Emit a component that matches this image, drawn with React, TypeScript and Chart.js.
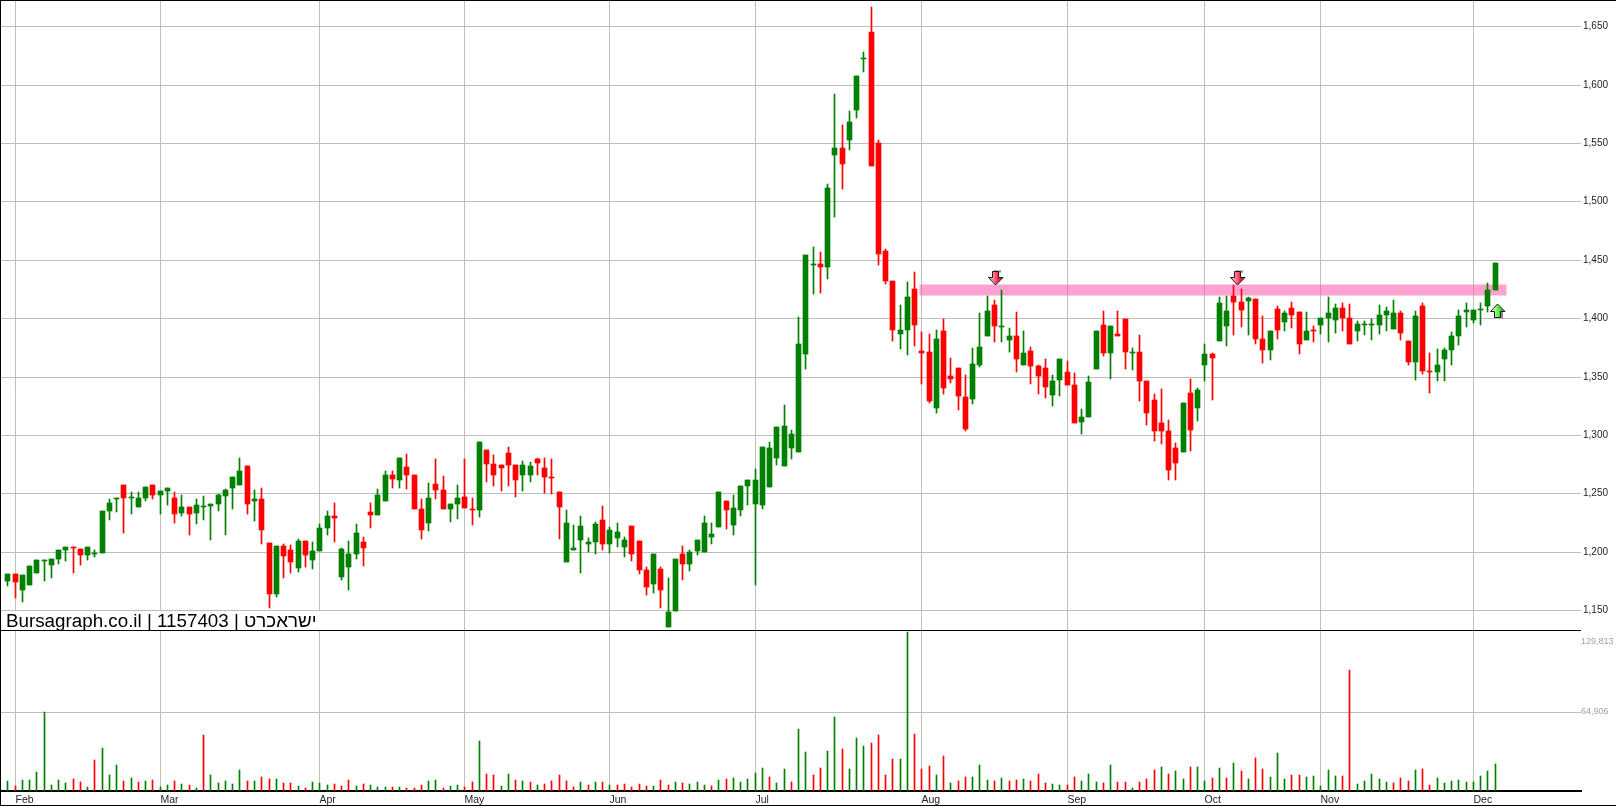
import React, { useEffect, useRef } from 'react';
import Chart from 'chart.js/auto';

const opens = [
  1174.8, 1180.8, 1167.1, 1171.4, 1181.7, 1192.5, 1188.5, 1193.7, 1201.4, 1203.9,
  1202.2, 1197.1, 1197.9, 1198.8, 1234.8, 1245, 1257, 1245.9, 1238.2, 1245.9,
  1257, 1248.5, 1251.9, 1245.9, 1233.1, 1238.2, 1233.1, 1238.2, 1239, 1240.8,
  1247.6, 1254.5, 1257, 1273.3, 1243.3, 1245, 1207.4, 1163.7, 1204.8, 1201.4,
  1186, 1209.1, 1192.8, 1200.5, 1220.2, 1230.5, 1178.3, 1186.8, 1197.9, 1208.3,
  1233.9, 1231.4, 1243.4, 1265.6, 1261.3, 1272.5, 1265.6, 1236.5, 1224.5, 1257.9,
  1252.8, 1236.5, 1240.8, 1246.8, 1236.5, 1235.7, 1287, 1275, 1274.2, 1284.5,
  1274.2, 1265.6, 1265.6, 1279.3, 1271.6, 1263.9, 1251.1, 1191.1, 1201.4, 1209.9,
  1206.5, 1208.3, 1227.1, 1206.5, 1211.7, 1204, 1221.9, 1209.1, 1184.3, 1172.3,
  1185.1, 1136, 1149.2, 1198, 1189.4, 1200.6, 1199.7, 1212.5, 1221.1, 1243.4,
  1222.8, 1236, 1256.6, 1241, 1240, 1255.8, 1280.6, 1273.7, 1289.1, 1285.7,
  1369.6, 1445.8, 1446.7, 1444.1, 1539.6, 1545.6, 1552.4, 1578.1, 1621.8, 1644.9,
  1549.9, 1457.8, 1432.1, 1386.8, 1390.2, 1425.3, 1372.2, 1371.3, 1323.4, 1389.3,
  1350.8, 1357.6, 1332.8, 1331.1, 1360.2, 1385, 1411.6, 1392.7, 1381.6, 1385,
  1360.2, 1372.2, 1359.4, 1357.6, 1334.5, 1347.4, 1354.2, 1343.1, 1311.4, 1315.7,
  1356.8, 1394.5, 1370.5, 1386.8, 1399.6, 1370.5, 1371.4, 1346.5, 1330.3, 1310.6,
  1303.7, 1289.2, 1285.7, 1336.3, 1323.4, 1360.2, 1369.7, 1380.8, 1393.6, 1419.3,
  1414.2, 1415, 1416.7, 1382.5, 1373.1, 1408.2, 1397.1, 1409.1, 1405.7, 1381.7,
  1390.2, 1394.5, 1400.5, 1398.8, 1409.1, 1400.5, 1389.4, 1394.5, 1394.5, 1394.5,
  1403.1, 1391.1, 1404.8, 1380.8, 1362.8, 1410.8, 1355.1, 1354.3, 1365.4, 1373.1,
  1385.1, 1405.7, 1398.8, 1407.4, 1410.8, 1424.5,
];

const highs = [
  1180.8, 1180.8, 1180, 1187.7, 1193.4, 1193.4, 1193.7, 1201.4, 1203.9, 1203.9,
  1202.2, 1203.9, 1201.4, 1234.8, 1245, 1245.9, 1257, 1251, 1251, 1255.3,
  1257, 1251.9, 1254.5, 1251, 1248.5, 1238.2, 1245, 1247.6, 1240.8, 1249.3,
  1253.6, 1263.9, 1280.1, 1273.3, 1252.7, 1254.5, 1207.4, 1204.8, 1206.5, 1205.6,
  1210.8, 1209.1, 1208.2, 1223.6, 1234.8, 1241.6, 1203.1, 1209.1, 1223.6, 1212.5,
  1241.6, 1253.6, 1269, 1269, 1280.2, 1283.6, 1265.6, 1245.1, 1258.8, 1279.3,
  1264.8, 1240.8, 1257, 1279.3, 1245.9, 1293.9, 1287, 1282.7, 1274.2, 1289.6,
  1274.2, 1277.6, 1276.8, 1280.2, 1280.2, 1279.3, 1251.1, 1235.7, 1222.8, 1230.5,
  1211.7, 1225.4, 1239.1, 1221.1, 1224.5, 1212.5, 1221.9, 1209.1, 1186.9, 1198,
  1186.9, 1177.4, 1193.7, 1204.8, 1201.4, 1210, 1230.5, 1224.5, 1251.1, 1243.4,
  1248.5, 1256.6, 1261.8, 1271.2, 1290, 1294.3, 1307.1, 1325.9, 1304.6, 1401.3,
  1454.4, 1461.2, 1457, 1514.8, 1591.8, 1565.3, 1577.3, 1607.2, 1627.8, 1666.3,
  1552.4, 1459.5, 1432.1, 1411.6, 1431.3, 1439.8, 1388.5, 1386.8, 1390.2, 1399.6,
  1366.2, 1357.6, 1351.7, 1374.8, 1404.7, 1419.3, 1415.9, 1424.4, 1391.9, 1405.6,
  1389.3, 1375.6, 1360.2, 1365.3, 1351.6, 1365.3, 1363.7, 1353.4, 1322.6, 1350.8,
  1389.3, 1406.5, 1393.6, 1406.5, 1399.6, 1374.8, 1385.9, 1346.5, 1335.4, 1339.7,
  1313.1, 1293.4, 1327.7, 1348.2, 1340.5, 1378.2, 1370.5, 1418.5, 1419.3, 1428.7,
  1425.3, 1418.5, 1416.7, 1402.2, 1389.3, 1410.8, 1406.5, 1414.2, 1405.7, 1405.7,
  1393.7, 1400.5, 1418.5, 1412.5, 1413.4, 1412.5, 1398, 1398, 1399.7, 1411.6,
  1409.9, 1415.9, 1406.5, 1380.8, 1406.5, 1413.4, 1370.6, 1374, 1374.8, 1388.5,
  1407.4, 1413.4, 1407.4, 1413.4, 1430.5, 1447.6,
];

const lows = [
  1170.5, 1160.3, 1156.9, 1171.4, 1181.7, 1174.8, 1177.4, 1189.4, 1192, 1181.7,
  1188.5, 1192.8, 1195.4, 1198.8, 1227.1, 1233.9, 1215.9, 1232.2, 1238.2, 1243.3,
  1245, 1232.2, 1239.9, 1224.5, 1230.5, 1214.2, 1223.6, 1227.1, 1209.9, 1234.8,
  1214.2, 1236.5, 1257, 1232.2, 1226.2, 1206.5, 1151.7, 1161.1, 1177.4, 1181.7,
  1182.5, 1186.8, 1185.1, 1200.5, 1214.2, 1208.2, 1175.7, 1167.1, 1193.7, 1187.7,
  1220.2, 1231.4, 1243.4, 1254.5, 1254.5, 1253.6, 1236.5, 1210.8, 1217.7, 1245.1,
  1236.5, 1225.4, 1227.9, 1237.4, 1222.8, 1229.7, 1259.6, 1256.2, 1251.9, 1256.2,
  1246.8, 1251.9, 1259.6, 1265.6, 1250.2, 1249.4, 1210.8, 1191.1, 1201.4, 1181.7,
  1199.7, 1198, 1201.4, 1198.8, 1204, 1195.4, 1192, 1180.8, 1162.9, 1164.6,
  1151.7, 1136, 1149.2, 1175.7, 1183.4, 1197.1, 1199.7, 1206.5, 1221.1, 1219.4,
  1214.2, 1231, 1240, 1172, 1236.5, 1255.8, 1274.6, 1273.7, 1279.7, 1285.7,
  1356.8, 1421, 1421.9, 1433.8, 1486.5, 1510.5, 1543.9, 1571.3, 1610.7, 1530.2,
  1445.8, 1429.6, 1380.8, 1373.9, 1368.8, 1376.5, 1343.9, 1327.7, 1319.1, 1335.4,
  1344.8, 1321.7, 1303.7, 1326.8, 1358.5, 1385, 1379.9, 1379.9, 1371.3, 1354.2,
  1360.2, 1343.9, 1335.4, 1332, 1325.1, 1333.7, 1343.1, 1310.6, 1301.1, 1315.7,
  1356.8, 1367.9, 1348.2, 1385, 1356.8, 1356, 1329.4, 1308.9, 1295.2, 1292.6,
  1261.8, 1261.8, 1285.7, 1286.6, 1312.3, 1346.5, 1330.3, 1380.8, 1376.5, 1385.9,
  1392.8, 1385.9, 1378.2, 1361.9, 1364.5, 1382.5, 1389.3, 1392, 1369.7, 1381.7,
  1380, 1386.8, 1380, 1387.7, 1389.4, 1378.3, 1380.8, 1386, 1381.7, 1386.8,
  1389.4, 1391.1, 1381.7, 1360.3, 1347.4, 1352.6, 1336.3, 1346.6, 1346.6, 1360.3,
  1377.4, 1392.8, 1396.2, 1394.5, 1405.7, 1424.5,
];

const closes = [
  1180.8, 1174, 1180, 1187.7, 1192.8, 1193.4, 1193.7, 1201.4, 1203.9, 1203.1,
  1197.1, 1203.9, 1198.8, 1234.8, 1241.6, 1245.9, 1245.9, 1246.7, 1245.9, 1255.3,
  1248.5, 1251.9, 1254.5, 1232.2, 1238.2, 1232.2, 1239.9, 1239, 1240.8, 1248.5,
  1252.7, 1263.9, 1269, 1240.8, 1245, 1218.5, 1163.7, 1204.8, 1196.2, 1191.1,
  1209.1, 1197.1, 1200.5, 1220.2, 1230.5, 1228.8, 1202.2, 1197.9, 1215.9, 1203.1,
  1231.4, 1248.5, 1265.6, 1262.2, 1280.2, 1265.6, 1236.5, 1218.5, 1245.9, 1252.8,
  1236.5, 1240.8, 1245.9, 1237.4, 1235.7, 1293.9, 1275, 1265.6, 1271.6, 1274.2,
  1261.3, 1274.2, 1273.3, 1275.9, 1263.9, 1263, 1238.2, 1224.5, 1203.1, 1221.9,
  1208.3, 1223.7, 1206.5, 1218.5, 1216.8, 1209.9, 1198, 1184.3, 1169.7, 1198,
  1167.2, 1148.3, 1193.7, 1189.4, 1199.7, 1210, 1224.5, 1215.1, 1251.1, 1235.7,
  1237.3, 1256.6, 1261.8, 1261.8, 1290, 1289.1, 1307.1, 1308, 1301.1, 1378.2,
  1454.4, 1446.7, 1444.1, 1511.3, 1545.6, 1531.9, 1567.8, 1607.2, 1622.6, 1530.2,
  1455.3, 1432.1, 1390.2, 1390.2, 1418.4, 1394.5, 1370.5, 1329.4, 1382.5, 1340.5,
  1348.2, 1333.7, 1305.4, 1361.1, 1375.6, 1406.4, 1393.6, 1393.6, 1385, 1365.3,
  1370.5, 1359.4, 1350.8, 1341.4, 1346.5, 1365.3, 1343.1, 1310.6, 1315.7, 1345.7,
  1389.3, 1370.5, 1393.6, 1385, 1371.4, 1371.4, 1346.5, 1319.1, 1303.7, 1303.7,
  1270.3, 1276.3, 1327.7, 1304.6, 1338.8, 1369.7, 1366.2, 1413.3, 1406.5, 1414.2,
  1407.3, 1417.6, 1382.5, 1373.1, 1389.3, 1390.2, 1404.8, 1403.1, 1378.3, 1389.4,
  1389.4, 1400.5, 1404.8, 1409.1, 1400.5, 1378.3, 1395.4, 1395.4, 1395.4, 1403.1,
  1406.5, 1404.8, 1387.7, 1362.8, 1402.2, 1355.1, 1354.3, 1360.3, 1373.1, 1385.1,
  1402.2, 1407.4, 1407.4, 1408.2, 1424.5, 1447.6,
];

const volumes = [
  8160, 4080, 8980, 8980, 15510, 64906, 4900, 8980, 6530, 9800,
  7350, 3270, 25310, 35100, 13060, 21220, 8160, 10610, 7350, 8160,
  8980, 3270, 4900, 8160, 5710, 4900, 2450, 45710, 13060, 6530,
  8160, 5710, 17140, 8160, 8160, 11430, 9800, 9800, 6530, 6530,
  4080, 2450, 7350, 6530, 4900, 5710, 4080, 8980, 4080, 5710,
  4900, 3270, 3270, 3270, 3270, 2450, 2450, 4900, 8160, 8980,
  2450, 4080, 4900, 3270, 7350, 40820, 13880, 13060, 4080, 13880,
  8980, 8160, 7350, 4900, 5710, 8160, 13060, 8160, 3270, 7350,
  4900, 7350, 7350, 4900, 4900, 5710, 3270, 5710, 4080, 4080,
  8980, 4900, 7350, 6530, 5710, 7350, 4900, 4080, 8980, 9800,
  10610, 7350, 9800, 14690, 18780, 11430, 6530, 17960, 7350, 50610,
  31840, 13060, 18780, 32650, 60410, 34290, 17960, 43260, 36730, 39180,
  45710, 13060, 26120, 26120, 129813, 46530, 17960, 20410, 13060, 28570,
  6530, 8160, 11430, 11430, 21220, 8980, 8160, 10610, 8160, 8980,
  9800, 8160, 13880, 6530, 5710, 4900, 4900, 11430, 8160, 13880,
  7350, 6530, 21220, 7350, 7350, 2450, 7350, 9800, 17140, 19590,
  13880, 16330, 9800, 19590, 19590, 8160, 10610, 18780, 10610, 22860,
  16330, 9800, 26940, 17960, 11430, 31020, 9800, 13060, 13060, 11430,
  12240, 4080, 17140, 12240, 12240, 98770, 5710, 8160, 13880, 9800,
  7350, 6530, 10610, 8160, 17140, 17960, 4900, 10610, 6530, 8160,
  8980, 7350, 7350, 12240, 16330, 22040,
];

// G = up day, R = down day (volume colour doesn't always follow the candle)
const volumeSides =
  'GRGGGGGGGR' + 'RGRGGGRGRG' + 'RGGRGRGRGG' + 'GGGRGRRGRR' + 'GRGGGRRRGR' +
  'GGGRGRRRGG' + 'RGGRRGRRGG' + 'RGRGRRRRRG' + 'RGRGRRRRRG' + 'RRGRGGGRGR' +
  'GGGGGRGGRG' + 'GRRGGRGGGR' + 'RRRGGRRRGR' + 'GRRGGGRGRR' + 'GRRRGGRRGG' +
  'GRGRRGRRRG' + 'RGGRGGRGRG' + 'RGRRGGGRRG' + 'GGGGRRGGGG' + 'GRRRGRRGGG' +
  'GGGGGG';

const monthIndexes = [1, 21, 43, 63, 83, 103, 126, 146, 165, 181, 202];
const monthLabels = ['Feb', 'Mar', 'Apr', 'May', 'Jun', 'Jul', 'Aug', 'Sep', 'Oct', 'Nov', 'Dec'];
const priceTicks = [1150, 1200, 1250, 1300, 1350, 1400, 1450, 1500, 1550, 1600, 1650];
const volumeTicks = [64906, 121650];
const volumeTickLabels = ['64,906', '129,813'];

// resistance band and the signal arrows
const bandRange = [125.6, 206.6];
const bandPrice = 1423.8;
const downSignals = [{ x: 136.3, y: 1434.7 }, { x: 169.7, y: 1434.7 }];
const upSignals = [{ x: 205.4, y: 1406.2 }];

const GREEN = '#008000';
const RED = '#FF0000';

function makeArrow(up: boolean, light: string, strong: string) {
  const c = document.createElement('canvas');
  c.width = 17;
  c.height = 16;
  const ctx = c.getContext('2d')!;
  if (up) {
    ctx.translate(0, 16);
    ctx.scale(1, -1);
  }
  const outline = () => {
    ctx.beginPath();
    ctx.moveTo(4.5, 1.5);
    ctx.lineTo(10.5, 1.5);
    ctx.lineTo(10.5, 7.5);
    ctx.lineTo(15, 7.5);
    ctx.lineTo(7.5, 15);
    ctx.lineTo(0.5, 7.5);
    ctx.lineTo(4.5, 7.5);
    ctx.closePath();
  };
  ctx.fillStyle = '#8a8a8a';
  ctx.fillRect(up ? 11 : 6, 0.5, 2, 8);
  ctx.fillRect(6, up ? 8 : 0.5, 7, 2);
  const grad = ctx.createLinearGradient(4, 0, 11, 0);
  grad.addColorStop(0, light);
  grad.addColorStop(1, strong);
  outline();
  ctx.fillStyle = grad;
  ctx.fill();
  ctx.lineWidth = 1;
  ctx.strokeStyle = '#1a1a1a';
  ctx.stroke();
  return c;
}

// keep candles on whole pixels so wicks stay 1px and sharp
function snapAxis(scale: any, snap: (px: number) => number) {
  const proto = Object.getPrototypeOf(scale);
  scale.getPixelForValue = (v: number, i?: number) => snap(proto.getPixelForValue.call(scale, v, i));
}

function clearPadding(scale: any) {
  scale.paddingTop = 0;
  scale.paddingBottom = 0;
  scale.paddingLeft = 0;
  scale.paddingRight = 0;
}

const framePlugin = {
  id: 'frame',
  afterDraw(chart: any) {
    const { ctx, width, height, chartArea, scales } = chart;
    ctx.save();
    ctx.fillStyle = '#000';
    ctx.fillRect(0, 0, width, 1);
    ctx.fillRect(0, 0, 1, height);
    ctx.fillRect(0, height - 1, width, 1);
    const sep = Math.round(scales.yVol.getPixelForValue(131000));
    ctx.fillRect(0, sep - 1, chartArea.right, 1);
    ctx.restore();
  },
};

const App: React.FC = () => {
  const chartRef = useRef<HTMLCanvasElement>(null);

  useEffect(() => {
    if (!chartRef.current) return;
    const indexes = opens.map((_, i) => i);
    const candleColors = indexes.map(i => (closes[i] >= opens[i] ? GREEN : RED));
    const volumeColors = indexes.map(i => (volumeSides[i] === 'G' ? GREEN : RED));
    const arrowDown = makeArrow(false, '#FFA0B0', '#F0143C');
    const arrowUp = makeArrow(true, '#B8FFA8', '#28D828');

    const chart = new Chart(chartRef.current, {
      type: 'bar',
      plugins: [framePlugin],
      data: {
        datasets: [
          {
            type: 'line',
            data: bandRange.map(x => ({ x, y: bandPrice })),
            borderColor: 'rgba(255, 95, 175, 0.58)',
            borderWidth: 11,
            borderCapStyle: 'butt',
            pointRadius: 0,
            yAxisID: 'y',
            order: 5,
          },
          {
            data: indexes.map(i => ({ x: i, y: [lows[i], highs[i]] })),
            backgroundColor: candleColors,
            maxBarThickness: 1,
            barPercentage: 1,
            categoryPercentage: 1,
            grouped: false,
            yAxisID: 'y',
            order: 3,
          },
          {
            data: indexes.map(i => ({ x: i, y: [opens[i], closes[i]] })),
            backgroundColor: candleColors,
            maxBarThickness: 5,
            barPercentage: 1,
            categoryPercentage: 1,
            grouped: false,
            minBarLength: 1,
            yAxisID: 'y',
            order: 2,
          },
          {
            data: indexes.map(i => ({ x: i, y: volumes[i] })),
            backgroundColor: volumeColors,
            maxBarThickness: 1,
            barPercentage: 1,
            categoryPercentage: 1,
            grouped: false,
            yAxisID: 'yVol',
            order: 3,
          },
          {
            type: 'scatter',
            data: [...downSignals, ...upSignals],
            pointStyle: [...downSignals.map(() => arrowDown), ...upSignals.map(() => arrowUp)],
            pointRadius: 8,
            yAxisID: 'y',
            order: 1,
          },
        ] as any,
      },
      options: {
        animation: false,
        responsive: false,
        devicePixelRatio: 1,
        layout: { autoPadding: false, padding: { top: 1, left: 1, right: 0, bottom: 0 } },
        plugins: { legend: { display: false }, tooltip: { enabled: false } },
        scales: {
          x: {
            type: 'linear',
            min: -0.94,
            max: 216.84,
            offset: false,
            position: 'bottom',
            grid: { color: '#C3BFB6', lineWidth: 1, drawTicks: false, offset: false },
            border: { color: '#000', width: 2 },
            ticks: {
              autoSkip: false,
              maxRotation: 0,
              align: 'start',
              padding: 3,
              color: '#222',
              font: { family: '"Liberation Sans"', size: 10.5 },
              callback: (value: any) => monthLabels[monthIndexes.indexOf(value)],
            },
            afterBuildTicks: (s: any) => {
              s.ticks = monthIndexes.map(value => ({ value }));
            },
            afterFit: (s: any) => {
              s.height = 15;
              clearPadding(s);
            },
            afterUpdate: (s: any) => snapAxis(s, px => Math.floor(px) + 0.5),
          },
          y: {
            type: 'linear',
            position: 'right',
            weight: 1,
            min: 995.3,
            max: 1671.6,
            grid: { color: '#BDBDBD', lineWidth: 1, drawTicks: false },
            border: { display: false },
            ticks: {
              autoSkip: false,
              padding: 2,
              color: '#222',
              font: { family: '"Liberation Sans"', size: 10 },
              callback: (value: any) => Number(value).toLocaleString('en-US'),
            },
            afterBuildTicks: (s: any) => {
              s.ticks = priceTicks.map(value => ({ value }));
            },
            afterFit: (s: any) => {
              s.width = 35;
              clearPadding(s);
            },
            afterUpdate: (s: any) => snapAxis(s, px => Math.round(px)),
          },
          yVol: {
            type: 'linear',
            position: 'right',
            weight: 0,
            min: 0,
            max: 644980,
            grid: {
              color: (c: any) => (c.tick && c.tick.value === volumeTicks[0] ? '#BDBDBD' : 'rgba(0,0,0,0)'),
              lineWidth: 1,
              drawTicks: false,
            },
            border: { display: false },
            ticks: {
              autoSkip: false,
              padding: 0,
              color: '#A3A3A3',
              font: { family: '"Liberation Sans"', size: 9 },
              callback: (value: any) => volumeTickLabels[volumeTicks.indexOf(value)],
            },
            afterBuildTicks: (s: any) => {
              s.ticks = volumeTicks.map(value => ({ value }));
            },
            afterFit: (s: any) => {
              s.width = 0;
              clearPadding(s);
              // zero-width axis would clip its own labels away
              s._computeLabelArea = () => null;
            },
            afterUpdate: (s: any) => snapAxis(s, px => Math.round(px)),
          },
        },
      } as any,
    });

    return () => {
      chart.destroy();
    };
  }, []);

  return (
    <div style={{ position: 'absolute', left: 0, top: 0, width: 1616, height: 806, background: '#fff', overflow: 'hidden' }}>
      <canvas ref={chartRef} width={1616} height={806} style={{ display: 'block' }} />
      <div
        style={{
          position: 'absolute',
          left: 1,
          top: 611,
          height: 19,
          padding: '0 3px 0 5px',
          background: '#fff',
          color: '#000',
          font: '18.8px/19px "Liberation Sans"',
          whiteSpace: 'nowrap',
        }}
      >
        Bursagraph.co.il | 1157403 | ישראכרט
      </div>
    </div>
  );
};

export default App;
